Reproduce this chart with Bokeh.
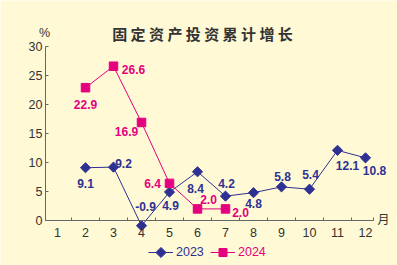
import math
from bokeh.plotting import figure
from bokeh.models import (Range1d, FixedTicker, ColumnDataSource, LabelSet, Label,
                          Legend, LegendItem)
from bokeh.core.properties import value
from bokeh.embed import file_html
from bokeh.resources import INLINE

# ---------------- data ----------------
title_text = "固定资产投资累计增长"
months = [1, 2, 3, 4, 5, 6, 7, 8, 9, 10, 11, 12]
month_labels = ["1", "2", "3", "4", "5", "6", "7", "8", "9", "10", "11", "12"]
y_ticks = [0, 5, 10, 15, 20, 25, 30]
months_2023 = [2, 3, 4, 5, 6, 7, 8, 9, 10, 11, 12]
growth_2023 = [9.1, 9.2, -0.9, 4.9, 8.4, 4.2, 4.8, 5.8, 5.4, 12.1, 10.8]
months_2024 = [2, 3, 4, 5, 6, 7]
growth_2024 = [22.9, 26.6, 16.9, 6.4, 2.0, 2.0]
series_names = ["2023", "2024"]
y_unit = "%"
x_unit = "月"

# ---------------- style ----------------
BG = "#FFF9D6"
BLUE = "#2E3192"
MAGENTA = "#E4007F"
AXIS = "#666666"
TXT = "#333333"
LAT = "Liberation Sans"
CJK = "Noto Sans CJK SC"

# label offsets (px) for value labels
off_2023_x = [0, 10, 4, 1, -2, 1, 0, 1, 1, 10, 9]
off_2023_y = [-16, 4, 19, -13, -17, 13, -11, 10, 15, -15, -13]
off_2024_x = [0, 20, -15, -17, 11, 15]
off_2024_y = [-17, -3, -9, 0, 9, -4]

# frame fills the canvas: month m at px 57 + 28 (m-1), value v at py 220 - 5.8 v
PX0, PXS, PY0, PYS = 57.0, 28.0, 220.0, 5.8
def dx_(px):
    return 1 + (px - PX0) / PXS
def dy_(py):
    return (PY0 - py) / PYS

x0, x1 = dx_(0), dx_(397)
y0, y1 = dy_(265), dy_(0)
ax_x0, ax_x1 = dx_(45), dx_(373)   # extent of the x axis line

p = figure(width=397, height=265, output_backend="svg", toolbar_location=None,
           x_range=Range1d(x0, x1), y_range=Range1d(y0, y1),
           min_border=0, min_border_left=0, min_border_right=0,
           min_border_top=0, min_border_bottom=0,
           background_fill_color=BG, border_fill_color=BG,
           outline_line_color=None)
p.grid.visible = False

# x axis at y = 0
xa = p.xaxis[0]
xa.fixed_location = 0
xa.bounds = (ax_x0, ax_x1)
xa.ticker = FixedTicker(ticks=months,
                        minor_ticks=[m + 0.5 for m in months[:-1]] + [ax_x1])
xa.major_label_overrides = {m: l for m, l in zip(months, month_labels)}
xa.major_tick_line_color = None
xa.major_tick_in = 0
xa.major_tick_out = 0
xa.minor_tick_in = 3
xa.minor_tick_out = 0
xa.minor_tick_line_color = AXIS
xa.axis_line_color = AXIS
xa.major_label_standoff = 7
xa.major_label_text_font = LAT
xa.major_label_text_font_size = "12.5px"
xa.major_label_text_color = TXT

# y axis at the left end of the x axis
ya = p.yaxis[0]
ya.fixed_location = ax_x0
ya.ticker = FixedTicker(ticks=y_ticks, minor_ticks=[])
ya.bounds = (0, 30)
ya.major_tick_in = 3
ya.major_tick_out = 0
ya.major_tick_line_color = AXIS
ya.axis_line_color = AXIS
ya.major_label_standoff = 3
ya.major_label_text_font = LAT
ya.major_label_text_font_size = "12.5px"
ya.major_label_text_color = TXT

# series
s23 = ColumnDataSource(dict(x=months_2023, y=growth_2023,
                            t=[f"{v:.1f}" for v in growth_2023],
                            dx=off_2023_x, dy=off_2023_y))
s24 = ColumnDataSource(dict(x=months_2024, y=growth_2024,
                            t=[f"{v:.1f}" for v in growth_2024],
                            dx=off_2024_x, dy=off_2024_y))

DIAMOND = dict(marker="square", angle=math.pi / 4, size=7.2,
               fill_color=BLUE, line_color=BLUE)

l23 = p.line("x", "y", source=s23, line_color=BLUE, line_width=1)
m23 = p.scatter("x", "y", source=s23, **DIAMOND)
l24 = p.line("x", "y", source=s24, line_color=MAGENTA, line_width=1)
m24 = p.scatter("x", "y", source=s24, marker="square", size=8.5,
                fill_color=MAGENTA, line_color=MAGENTA)

for src, col in ((s23, BLUE), (s24, MAGENTA)):
    p.add_layout(LabelSet(x="x", y="y", text="t", source=src,
                          x_offset="dx", y_offset="dy",
                          text_align="center", text_baseline="middle",
                          text_font=value(LAT), text_font_style="bold",
                          text_font_size="12px", text_color=col))

# title and units
p.add_layout(Label(x=dx_(202), y=dy_(33), text=" ".join(title_text),
                   text_align="center", text_baseline="middle",
                   text_font=CJK, text_font_style="bold",
                   text_font_size="15px", text_color=TXT))
p.add_layout(Label(x=dx_(44), y=dy_(32.5), text=y_unit, text_align="center",
                   text_baseline="middle", text_font=LAT,
                   text_font_size="12.5px", text_color=TXT))
p.add_layout(Label(x=dx_(383), y=dy_(218), text=x_unit, text_align="center",
                   text_baseline="middle", text_font=CJK,
                   text_font_size="12px", text_color=TXT))

# legends (one per series so text colours differ)
LEG_Y = 252          # centre line of the legend row (px from top)
LEG_H = 20
legend_specs = (
    (series_names[0], [l23], BLUE, 148),          # diamond overlaid below
    (series_names[1], [l24, m24], MAGENTA, 210),
)
for name, rends, col, vx in legend_specs:
    lg = Legend(items=[LegendItem(label=name, renderers=rends)],
                location=(vx, 265 - LEG_Y - LEG_H // 2), orientation="horizontal",
                padding=0, margin=0, spacing=0,
                glyph_width=25, glyph_height=LEG_H, label_height=LEG_H,
                label_standoff=3, label_text_font=LAT,
                label_text_font_size="12.5px", label_text_color=col,
                border_line_color=None, background_fill_alpha=0)
    p.add_layout(lg)

# the legend cannot rotate markers, so the 2023 diamond sample is drawn on top
p.scatter(x=[dx_(148 + 12.5)], y=[dy_(LEG_Y)], **DIAMOND)

open("out.html", "w").write(file_html(p, INLINE))
